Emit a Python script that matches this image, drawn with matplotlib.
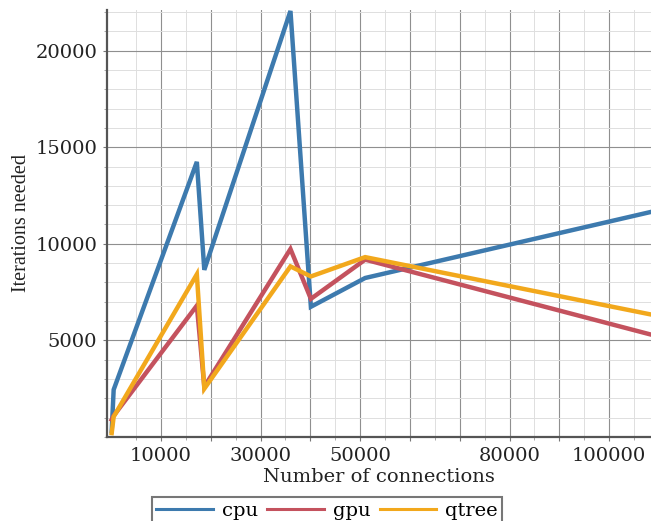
import matplotlib
matplotlib.use("Agg")
import matplotlib.pyplot as plt
from matplotlib.ticker import MultipleLocator, FixedLocator, FuncFormatter

# data
connections = [100, 500, 17200, 18700, 36000, 40100, 51000, 108400]
cpu = [300, 2450, 14240, 8650, 22050, 6740, 8230, 11650]
gpu = [900, 1100, 6800, 2600, 9730, 7150, 9180, 5300]
qtree = [200, 1050, 8420, 2500, 8830, 8310, 9310, 6340]

series_names = ["cpu", "gpu", "qtree"]
series_colors = ["#3d7aae", "#c4525e", "#f2a81c"]

x_labelled = [10000, 30000, 50000, 80000, 100000]
y_labelled = [5000, 10000, 15000, 20000]

plt.rcParams["font.family"] = ["DejaVu Serif"]

fig = plt.figure(figsize=(6.51, 5.21), dpi=100)
ax = fig.add_axes([107 / 651, 84 / 521, 1 - 107 / 651, 427 / 521])

for vals, name, col in zip([cpu, gpu, qtree], series_names, series_colors):
    ax.plot(connections, vals, color=col, lw=3.2, label=name,
            solid_joinstyle="miter", zorder=3)

ax.set_xlim(-840, 108400)
ax.set_ylim(0, 22100)

# grid / ticks: major every 10000 (no line at 0), minor every 5000
ax.xaxis.set_major_locator(FixedLocator(list(range(10000, 110000, 10000))))
ax.xaxis.set_minor_locator(FixedLocator(list(range(5000, 110000, 10000))))
ax.yaxis.set_major_locator(FixedLocator(y_labelled))
ax.yaxis.set_minor_locator(MultipleLocator(1000))
ax.xaxis.set_major_formatter(
    FuncFormatter(lambda v, p: f"{int(round(v))}" if int(round(v)) in x_labelled else ""))
ax.yaxis.set_major_formatter(FuncFormatter(lambda v, p: f"{int(round(v))}"))

ax.grid(which="major", color="#8f8f8f", lw=0.8, zorder=1)
ax.grid(which="minor", color="#dedede", lw=0.7, zorder=0)
ax.set_axisbelow(True)

for side in ["top", "right"]:
    ax.spines[side].set_visible(False)
for side in ["left", "bottom"]:
    ax.spines[side].set_color("#555555")
    ax.spines[side].set_linewidth(1.6)

ax.tick_params(which="major", length=3, width=0.8, color="#777777",
               labelsize=14, pad=4, labelcolor="#222222")
ax.tick_params(which="minor", length=2, width=0.6, color="#999999")

ax.set_xlabel("Number of connections", fontsize=14, color="#222222", labelpad=2)
ax.set_ylabel("Iterations needed", fontsize=14.5, color="#222222", labelpad=3,
              family=["Liberation Serif", "DejaVu Serif"])

handles = ax.get_lines()
leg = fig.legend(handles, series_names, loc="upper center",
                 bbox_to_anchor=(327 / 651, 24 / 521), ncol=3, fontsize=14,
                 frameon=True, fancybox=False, handlelength=2.9,
                 handletextpad=0.45, columnspacing=0.5, borderpad=0.25,
                 borderaxespad=0)
leg.get_frame().set_edgecolor("#555555")
leg.get_frame().set_linewidth(1.5)
for ln in leg.get_lines():
    ln.set_linewidth(2.2)

fig.savefig("out.png", dpi=100)
